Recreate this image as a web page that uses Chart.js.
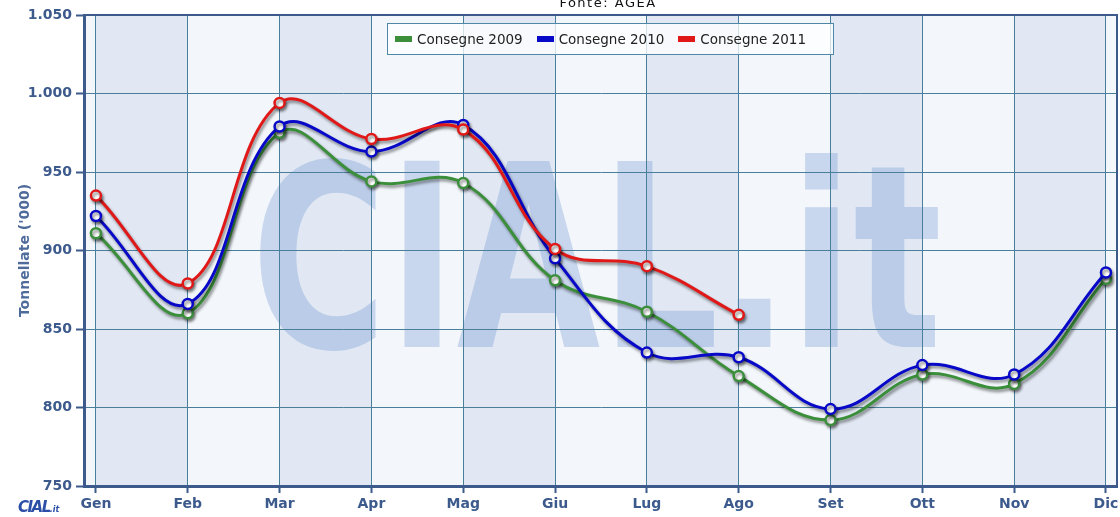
<!DOCTYPE html>
<html lang="it">
<head>
    <meta charset="UTF-8">
    <title>Consegne latte - Fonte AGEA</title>
    <script src="https://cdn.jsdelivr.net/npm/chart.js"></script>
    <style>
        body { margin: 0; background: #fff; font-family: "DejaVu Sans", Verdana, sans-serif; }
        #wrap { position: relative; width: 1120px; height: 517px; overflow: hidden; }
        #fonte { position: absolute; top: -4px; left: 0; width: 1216px; text-align: center;
                 font-size: 13px; line-height: 13px; letter-spacing: 1.5px; color: #111; }
        #legend { position: absolute; left: 387px; top: 23px; width: 438px; height: 30px;
                  border: 1px solid #4f87a6; background: rgba(255,255,255,0.75);
                  display: flex; align-items: center; padding-left: 7px; box-sizing: content-box; }
        #legend .item { display: flex; align-items: center; margin-right: 14px; font-size: 13.5px; color: #222; }
        #legend .sw { width: 17px; height: 6px; margin-right: 5px; }
        #logo { position: absolute; left: 18px; top: 498px; color: #2b4ea6; font-weight: 900;
                font-style: italic; font-size: 15px; letter-spacing: -1.5px; }
        #logo small { font-size: 8px; letter-spacing: 0; }
    </style>
</head>
<body>
<div id="wrap">
    <canvas id="chart" width="1120" height="517"></canvas>
    <div id="fonte">Fonte: AGEA</div>
    <div id="legend"></div>
    <div id="logo">CIAL<small>.it</small></div>
</div>
<script>
    // dati (tonnellate, migliaia)
    const months = ['Gen', 'Feb', 'Mar', 'Apr', 'Mag', 'Giu', 'Lug', 'Ago', 'Set', 'Ott', 'Nov', 'Dic'];
    const consegne2009 = [911, 860, 975, 944, 943, 881, 861, 820, 792, 821, 815, 882];
    const consegne2010 = [922, 866, 979, 963, 980, 895, 835, 832, 799, 827, 821, 886];
    const consegne2011 = [935, 879, 994, 971, 977, 901, 890, 859];
    const seriesNames = ['Consegne 2009', 'Consegne 2010', 'Consegne 2011'];
    const seriesColors = ['#3b8f3b', '#0808c8', '#e01818'];

    const navy = '#3c5a8c';
    const gridColor = '#4a7f9c';

    function fmt(v) {
        if (v >= 1000) return Math.floor(v / 1000) + '.' + String(v % 1000).padStart(3, '0');
        return String(v);
    }

    function toPoints(arr) {
        return arr.map((v, i) => ({ x: i, y: v }));
    }

    // bande alternate + scritta di sfondo
    const backdrop = {
        id: 'backdrop',
        beforeDraw(chart) {
            const { ctx, chartArea: a, scales: { x } } = chart;
            ctx.save();
            ctx.fillStyle = '#f3f7fb';
            ctx.fillRect(a.left, a.top, a.right - a.left, a.bottom - a.top);
            ctx.fillStyle = '#e1e8f3';
            for (let i = 0; i < months.length - 1; i += 2) {
                const x0 = x.getPixelForValue(i), x1 = x.getPixelForValue(i + 1);
                ctx.fillRect(x0, a.top, x1 - x0, a.bottom - a.top);
            }
            // watermark
            ctx.font = 'bold 255px "DejaVu Sans"';
            const w = ctx.measureText('CIAL.it').width;
            ctx.translate(251, 347);
            ctx.scale(691 / w, 1);
            ctx.fillStyle = 'rgba(85,130,205,0.27)';
            ctx.textBaseline = 'alphabetic';
            ctx.fillText('CIAL.it', 0, 0);
            ctx.restore();
        },
        beforeDatasetsDraw(chart) {
            const { ctx, chartArea: a } = chart;
            ctx.save();
            ctx.strokeStyle = navy;
            ctx.lineWidth = 2;
            ctx.beginPath();
            ctx.moveTo(a.left, a.top);
            ctx.lineTo(a.right, a.top);
            ctx.lineTo(a.right, a.bottom);
            ctx.stroke();
            ctx.restore();
        }
    };

    // ombra sotto le linee
    const shadow = {
        id: 'shadow',
        beforeDatasetDraw(chart) {
            const ctx = chart.ctx;
            ctx.save();
            ctx.shadowColor = 'rgba(0,0,0,0.45)';
            ctx.shadowBlur = 3;
            ctx.shadowOffsetX = 1.5;
            ctx.shadowOffsetY = 2.5;
        },
        afterDatasetDraw(chart) {
            chart.ctx.restore();
        }
    };

    const allSeries = [consegne2009, consegne2010, consegne2011];
    const datasets = allSeries.map((arr, k) => ({
        label: seriesNames[k],
        data: toPoints(arr),
        borderColor: seriesColors[k],
        backgroundColor: seriesColors[k],
        borderWidth: 3,
        tension: 0.4,
        pointRadius: 5,
        pointBorderWidth: 2.5,
        pointBackgroundColor: '#ffffff',
        pointBorderColor: seriesColors[k],
        order: 3 - k
    }));

    const ctx = document.getElementById('chart').getContext('2d');
    new Chart(ctx, {
        type: 'line',
        data: { datasets: datasets },
        plugins: [backdrop, shadow],
        options: {
            responsive: false,
            animation: false,
            events: [],
            layout: { autoPadding: false, padding: { top: 15, right: 3, left: 0, bottom: 0 } },
            plugins: {
                legend: { display: false },
                tooltip: { enabled: false }
            },
            scales: {
                x: {
                    type: 'linear',
                    min: -0.13,
                    max: 11.12,
                    afterFit(s) { s.height = 31; s.paddingLeft = 0; s.paddingRight = 0; },
                    ticks: {
                        stepSize: 1,
                        includeBounds: false,
                        autoSkip: false,
                        maxRotation: 0,
                        padding: 3,
                        color: navy,
                        font: { family: 'DejaVu Sans', size: 14, weight: 'bold' },
                        callback: v => months[v] ?? ''
                    },
                    grid: { color: gridColor, lineWidth: 1, tickLength: 7, tickColor: navy, tickWidth: 2 },
                    border: { display: true, color: navy, width: 3 }
                },
                y: {
                    min: 750,
                    max: 1050,
                    afterFit(s) { s.width = 84; s.paddingTop = 0; s.paddingBottom = 0; },
                    ticks: {
                        stepSize: 50,
                        padding: 4,
                        color: navy,
                        font: { family: 'DejaVu Sans', size: 14, weight: 'bold' },
                        callback: v => fmt(v)
                    },
                    title: {
                        display: true,
                        text: "Tonnellate ('000)",
                        color: '#4e6b9c',
                        font: { family: 'DejaVu Sans', size: 14, weight: 'bold' },
                        padding: { top: 17, bottom: 0 }
                    },
                    grid: { color: gridColor, lineWidth: 1, tickLength: 8, tickColor: navy, tickWidth: 2 },
                    border: { display: true, color: navy, width: 3 }
                }
            }
        }
    });

    // legenda dentro l'area del grafico
    const legend = document.getElementById('legend');
    seriesNames.forEach((name, k) => {
        const item = document.createElement('div');
        item.className = 'item';
        const sw = document.createElement('span');
        sw.className = 'sw';
        sw.style.background = seriesColors[k];
        const tx = document.createElement('span');
        tx.textContent = name;
        item.appendChild(sw);
        item.appendChild(tx);
        legend.appendChild(item);
    });
</script>
</body>
</html>
